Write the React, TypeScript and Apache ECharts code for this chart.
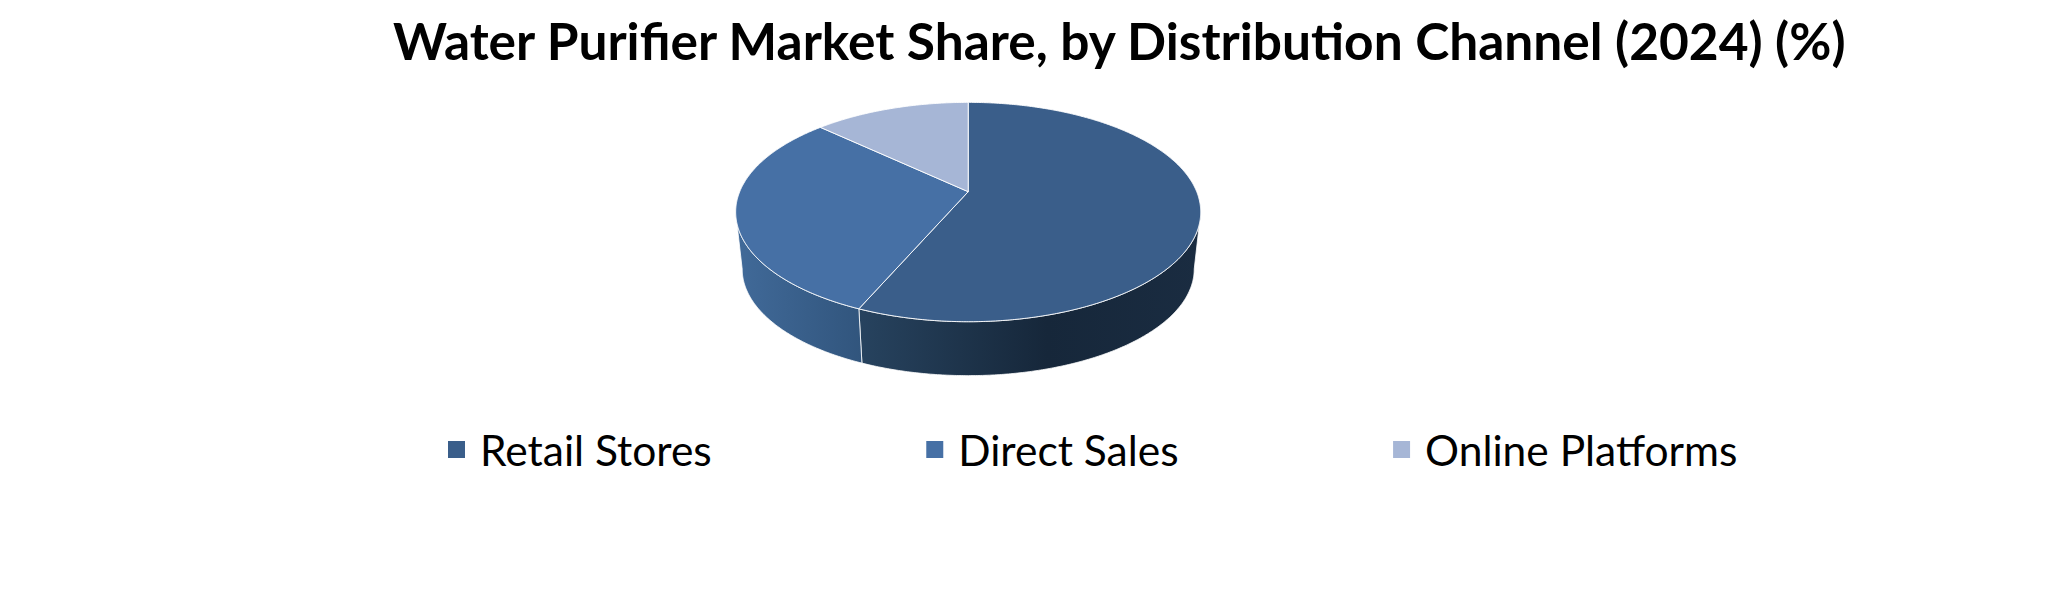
import React, { useEffect, useRef } from "react";
import * as echarts from "echarts";

const titleText = "Water Purifier Market Share, by Distribution Channel (2024) (%)";
const categories = ["Retail Stores", "Direct Sales", "Online Platforms"];
const shares = [56.5, 30.5, 13];
const topColors = ["#3A5E8A", "#4670A5", "#A6B6D6"];
const wallStops = [
  [[0, "#27435F"], [0.55, "#16273A"], [1, "#1A2C41"]],
  [[0, "#416A99"], [1, "#31557D"]],
  [[0, "#7E8BA4"], [1, "#7E8BA4"]],
];

// Projection of the tilted disc on the screen
const APEX_X = 968.2;
const APEX_Y = 191.7;
const HALF_X = 228.5;
const HALF_Y = 105.9;
const PERSPECTIVE = -0.1854;
const ELLIPSE_Y = 212;
const LOWER_SCALE = 0.972;
const DEPTH = 57;
const WALL_FROM = 100.7;
const WALL_TO = 259.3;

const total = shares.reduce((a, b) => a + b, 0);

function rimPoint(deg: number): [number, number] {
  const r = (deg * Math.PI) / 180;
  const s = Math.sin(r);
  const t = -Math.cos(r);
  const w = 1 + PERSPECTIVE * t;
  return [APEX_X + (HALF_X * s) / w, APEX_Y + (HALF_Y * t) / w];
}

function lowerPoint(p: [number, number]): [number, number] {
  return [
    APEX_X + (p[0] - APEX_X) * LOWER_SCALE,
    ELLIPSE_Y + (p[1] - ELLIPSE_Y) * LOWER_SCALE + DEPTH,
  ];
}

function arc(from: number, to: number): [number, number][] {
  const out: [number, number][] = [];
  const n = Math.max(2, Math.ceil((to - from) * 2));
  for (let i = 0; i <= n; i++) out.push(rimPoint(from + ((to - from) * i) / n));
  return out;
}

function sliceRange(index: number): [number, number] {
  const before = shares.slice(0, index).reduce((a, b) => a + b, 0);
  return [(before / total) * 360, ((before + shares[index]) / total) * 360];
}

function makeRenderItem(index: number) {
  return () => {
    const [start, end] = sliceRange(index);
    const children: any[] = [];
    const from = Math.max(start, WALL_FROM);
    const to = Math.min(end, WALL_TO);
    if (to > from) {
      const rim = arc(from, to);
      const low = rim.map(lowerPoint).reverse();
      children.push({
        type: "polygon",
        shape: { points: [...rim, ...low] },
        style: {
          fill: {
            type: "linear",
            x: 0,
            y: 0,
            x2: 1,
            y2: 0,
            colorStops: wallStops[index].map(([offset, color]) => ({ offset, color })),
          },
          stroke: "#FFFFFF",
          lineWidth: 0.8,
        },
      });
    }
    children.push({
      type: "polygon",
      shape: { points: [[APEX_X, APEX_Y], ...arc(start, end)] },
      style: { fill: topColors[index], stroke: "#FFFFFF", lineWidth: 0.9 },
    });
    return { type: "group", children };
  };
}

export default function App() {
  const ref = useRef<HTMLDivElement>(null);
  useEffect(() => {
    document.body.style.margin = "0";
    const chart = echarts.init(ref.current!, undefined, { renderer: "svg" });
    chart.setOption({
      animation: false,
      backgroundColor: "#FFFFFF",
      title: {
        text: titleText,
        left: 388,
        top: 9,
        textStyle: { fontFamily: "Lato", fontWeight: "bold", fontSize: 51.45, color: "#000000" },
      },
      legend: {
        data: categories,
        left: 443,
        top: 423,
        icon: "rect",
        itemWidth: 17,
        itemHeight: 17,
        itemGap: 214.5,
        selectedMode: false,
        textStyle: { fontFamily: "Lato", fontSize: 42.5, color: "#000000", padding: [0, 0, 0, 10] },
      },
      series: categories.map((name, i) => ({
        type: "custom",
        name,
        coordinateSystem: "none",
        silent: true,
        itemStyle: { color: topColors[i] },
        data: [shares[i]],
        renderItem: makeRenderItem(i),
      })),
    });
    return () => chart.dispose();
  }, []);
  return <div ref={ref} style={{ width: 2060, height: 597, position: "absolute", left: 0, top: 0 }} />;
}
